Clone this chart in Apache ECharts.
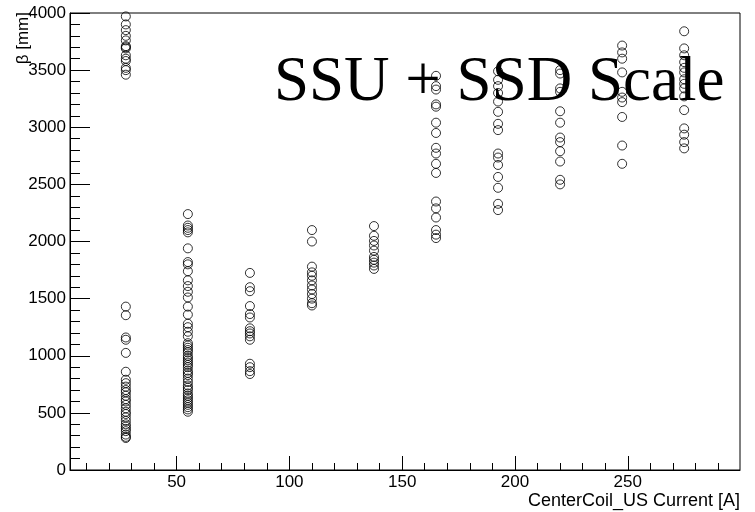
<!DOCTYPE html>
<html>
<head>
<meta charset="utf-8">
<script src="https://cdn.jsdelivr.net/npm/echarts@6/dist/echarts.min.js"></script>
<style>
  html, body { margin: 0; padding: 0; background: #fff; }
  #chart { width: 755px; height: 512px; }
</style>
</head>
<body>
<div id="chart"></div>
<script>
// CenterCoil_US current settings [A]
const currents = [27.5, 55, 82.5, 110, 137.5, 165, 192.5, 220, 247.5, 275]

// beta [mm] measured at each current setting
const beta27 = [3970, 3900, 3850, 3800, 3760, 3710, 3700, 3690, 3630, 3600, 3580, 3520, 3500, 3460,
  1430, 1355, 1160, 1140, 1025, 860, 790, 760, 730, 700, 680, 650, 620, 600, 570, 540, 510, 490,
  460, 430, 400, 380, 360, 340, 310, 290, 280]
const beta55 = [2240, 2140, 2120, 2100, 2080, 1940, 1820, 1800, 1740, 1660, 1610, 1560, 1510, 1430,
  1360, 1280, 1250, 1210, 1170, 1110, 1090, 1070, 1050, 1030, 1000, 980, 960, 940, 920, 900, 870,
  850, 830, 800, 770, 740, 720, 700, 670, 650, 630, 610, 590, 570, 550, 530, 510]
const beta82 = [1725, 1600, 1565, 1435, 1365, 1335, 1240, 1215, 1195, 1170, 1140, 930, 900, 865, 840]
const beta110 = [2100, 2000, 1780, 1730, 1700, 1660, 1615, 1580, 1540, 1500, 1460, 1440]
const beta137 = [2135, 2050, 2005, 1965, 1920, 1865, 1840, 1815, 1790, 1760]
const beta165 = [3450, 3360, 3330, 3200, 3180, 3040, 2950, 2820, 2770, 2680, 2600, 2350, 2290,
  2210, 2100, 2060, 2030]
const beta192 = [3490, 3415, 3360, 3300, 3225, 3135, 3030, 2975, 2770, 2735, 2670, 2565, 2470, 2330, 2275]
const beta220 = [3500, 3470, 3340, 3310, 3140, 3040, 2910, 2870, 2790, 2700, 2540, 2500]
const beta247 = [3715, 3655, 3600, 3480, 3310, 3260, 3220, 3090, 2840, 2680]
const beta275 = [3840, 3690, 3630, 3570, 3520, 3480, 3420, 3380, 3340, 3270, 3150, 2990, 2935, 2870, 2815]

// axis ticks
const xMajorTicks = [50, 100, 150, 200, 250]
const xMinorTicks = [10, 20, 30, 40, 60, 70, 80, 90, 110, 120, 130, 140, 160, 170, 180, 190,
  210, 220, 230, 240, 260, 270, 280, 290]

const columns = [beta27, beta55, beta82, beta110, beta137, beta165, beta192, beta220, beta247, beta275]
const points = []
columns.forEach((col, i) => {
  col.forEach(v => points.push([currents[i], v]))
})

const chart = echarts.init(document.getElementById('chart'))
const black = '#000'
const sans = 'Liberation Sans'

const option = {
  animation: false,
  backgroundColor: '#fff',
  grid: {
    left: 70,
    right: 15,
    top: 13,
    bottom: 42,
    show: true,
    borderColor: black,
    borderWidth: 1
  },
  xAxis: [
    {
      type: 'value',
      min: 2.75,
      max: 299.75,
      axisLine: { lineStyle: { color: black } },
      axisTick: { inside: true, length: 14, customValues: xMajorTicks, lineStyle: { color: black } },
      axisLabel: { customValues: xMajorTicks, color: black, fontFamily: sans, fontSize: 17, margin: 4 },
      splitLine: { show: false }
    },
    {
      // minor ticks only
      type: 'value',
      min: 2.75,
      max: 299.75,
      position: 'bottom',
      axisLine: { show: false },
      axisTick: { inside: true, length: 7, customValues: xMinorTicks, lineStyle: { color: black } },
      axisLabel: { show: false },
      splitLine: { show: false }
    }
  ],
  yAxis: {
    type: 'value',
    min: 0,
    max: 4000,
    interval: 500,
    axisLine: { show: true, lineStyle: { color: black } },
    axisTick: { show: true, inside: true, length: 20, lineStyle: { color: black } },
    minorTick: { show: true, splitNumber: 5, length: 10, lineStyle: { color: black } },
    axisLabel: {
      color: black,
      fontFamily: sans,
      fontSize: 17,
      margin: 4,
      formatter: v => String(v)
    },
    splitLine: { show: false }
  },
  graphic: [
    {
      type: 'text',
      left: 274,
      top: 52,
      z: 100,
      style: { text: 'SSU + SSD Scale', font: '63px "Liberation Serif"', fill: black }
    },
    {
      type: 'text',
      right: 15,
      top: 492,
      style: { text: 'CenterCoil_US Current [A]', font: '18px "Liberation Sans"', fill: black }
    },
    {
      type: 'text',
      x: 23,
      y: 12,
      rotation: Math.PI / 2,
      style: {
        text: 'β [mm]',
        font: '17px "Liberation Sans"',
        fill: black,
        align: 'right',
        verticalAlign: 'middle'
      }
    }
  ],
  series: [
    {
      type: 'scatter',
      xAxisIndex: 0,
      symbol: 'circle',
      symbolSize: 9,
      itemStyle: { color: 'rgba(0,0,0,0)', borderColor: black, borderWidth: 1 },
      emphasis: { disabled: true },
      data: points
    }
  ]
}

chart.setOption(option)
</script>
</body>
</html>
